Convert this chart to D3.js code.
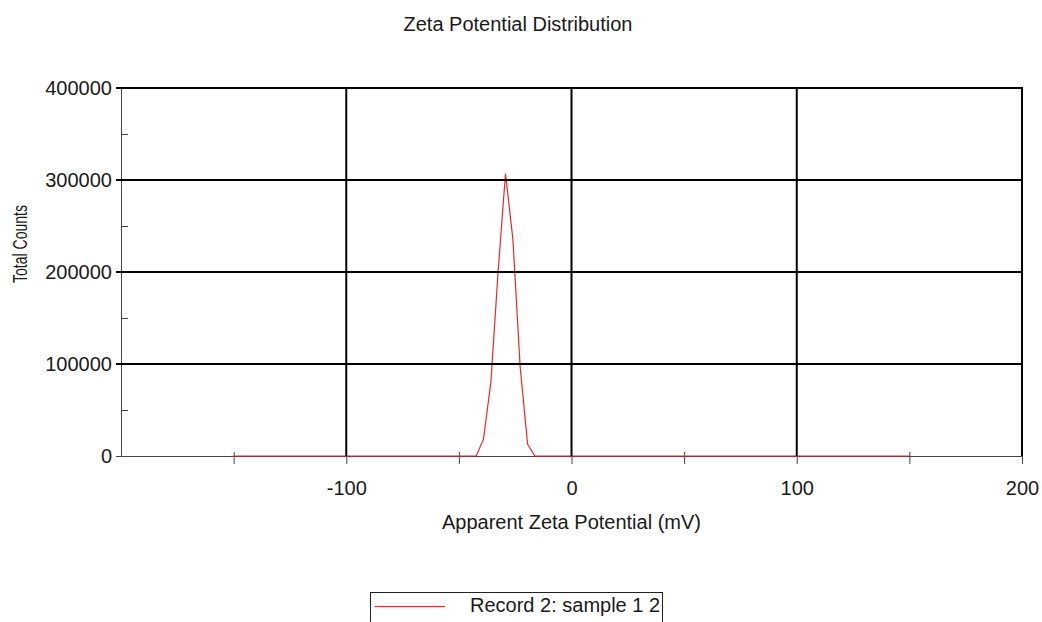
<!DOCTYPE html>
<html>
<head>
<meta charset="utf-8">
<script src="https://d3js.org/d3.v7.min.js"></script>
<style>
  body { margin: 0; background: #fff; }
  text { font-family: "Liberation Sans", Arial, sans-serif; fill: #1a1a1a; }
</style>
</head>
<body>
<div id="chart"></div>
<script>
// values
var zetaMv = [-150, -42.3, -39.1, -35.8, -32.6, -29.3, -26.0, -22.8, -19.5, -16.3, 150];
var totalCounts = [0, 0, 18000, 80000, 200000, 307000, 235000, 97000, 13000, 0, 0];

var xMajorTicks = [-100, 0, 100, 200];
var xMinorTicks = [-150, -50, 50, 150];
var yMajorTicks = [0, 100000, 200000, 300000, 400000];
var yMinorTicks = [50000, 150000, 250000, 350000];

var seriesName = "Record 2: sample 1 2";

var width = 1042, height = 622;

var svg = d3.select("#chart")
  .append("svg")
  .attr("width", width)
  .attr("height", height);

var x = d3.scaleLinear().domain([-200, 200]).range([121, 1022]);
var y = d3.scaleLinear().domain([0, 400000]).range([456, 88]);

// plain hyphen minus like the original software
var plain = function(d) { return String(d); };

// title
svg.append("text")
  .attr("x", 518)
  .attr("y", 31)
  .attr("text-anchor", "middle")
  .style("font-size", "20px")
  .text("Zeta Potential Distribution");

// y axis
var yAxis = svg.append("g")
  .attr("transform", "translate(" + x(-200) + ",0)")
  .call(d3.axisLeft(y).tickValues(yMajorTicks).tickSize(5).tickPadding(4).tickSizeOuter(0)
    .tickFormat(plain));
yAxis.selectAll("text").style("font-size", "20px");

svg.append("g")
  .attr("transform", "translate(" + x(-200) + ",0)")
  .call(d3.axisRight(y).tickValues(yMinorTicks).tickSize(7).tickFormat("").tickSizeOuter(0))
  .select(".domain").remove();

// x axis
var xAxis = svg.append("g")
  .attr("transform", "translate(0," + y(0) + ")")
  .call(d3.axisBottom(x).tickValues(xMajorTicks).tickSize(8).tickPadding(17).tickSizeOuter(0)
    .tickFormat(plain));
xAxis.selectAll("text").style("font-size", "20px");

svg.append("g")
  .attr("transform", "translate(0," + (y(0) - 4) + ")")
  .call(d3.axisBottom(x).tickValues(xMinorTicks).tickSize(12).tickFormat("").tickSizeOuter(0))
  .select(".domain").remove();

svg.selectAll(".domain, .tick line").attr("stroke", "#444").attr("stroke-width", 1);

// series line
var line = d3.line()
  .x(function(d, i) { return x(zetaMv[i]); })
  .y(function(d) { return y(d); });

svg.append("path")
  .datum(totalCounts)
  .attr("d", line)
  .attr("fill", "none")
  .attr("stroke", "#e8282c")
  .attr("stroke-width", 1.2);

// grid lines on top
svg.selectAll(".hgrid")
  .data(yMajorTicks.slice(1))
  .enter().append("line")
  .attr("class", "hgrid")
  .attr("x1", x(-200) - 5)
  .attr("x2", x(200) + 1)
  .attr("y1", function(d) { return y(d); })
  .attr("y2", function(d) { return y(d); })
  .attr("stroke", "#000")
  .attr("stroke-width", 2);

svg.selectAll(".vgrid")
  .data(xMajorTicks)
  .enter().append("line")
  .attr("class", "vgrid")
  .attr("x1", function(d) { return x(d); })
  .attr("x2", function(d) { return x(d); })
  .attr("y1", y(400000) - 1)
  .attr("y2", y(0))
  .attr("stroke", "#000")
  .attr("stroke-width", 2);

// axis titles
svg.append("text")
  .attr("x", x(0))
  .attr("y", 529)
  .attr("text-anchor", "middle")
  .style("font-size", "20px")
  .text("Apparent Zeta Potential (mV)");

svg.append("text")
  .attr("transform", "translate(27,244) rotate(-90)")
  .attr("text-anchor", "middle")
  .attr("textLength", 78)
  .attr("lengthAdjust", "spacingAndGlyphs")
  .style("font-size", "20px")
  .text("Total Counts");

// legend
var legend = svg.append("g");
legend.append("rect")
  .attr("x", 370.5)
  .attr("y", 592.5)
  .attr("width", 292)
  .attr("height", 40)
  .attr("fill", "none")
  .attr("stroke", "#222")
  .attr("stroke-width", 1);
legend.append("line")
  .attr("x1", 375)
  .attr("x2", 445)
  .attr("y1", 606.5)
  .attr("y2", 606.5)
  .attr("stroke", "#e8282c")
  .attr("stroke-width", 1.2);
legend.append("text")
  .attr("x", 470)
  .attr("y", 612)
  .style("font-size", "20px")
  .text(seriesName);
</script>
</body>
</html>
